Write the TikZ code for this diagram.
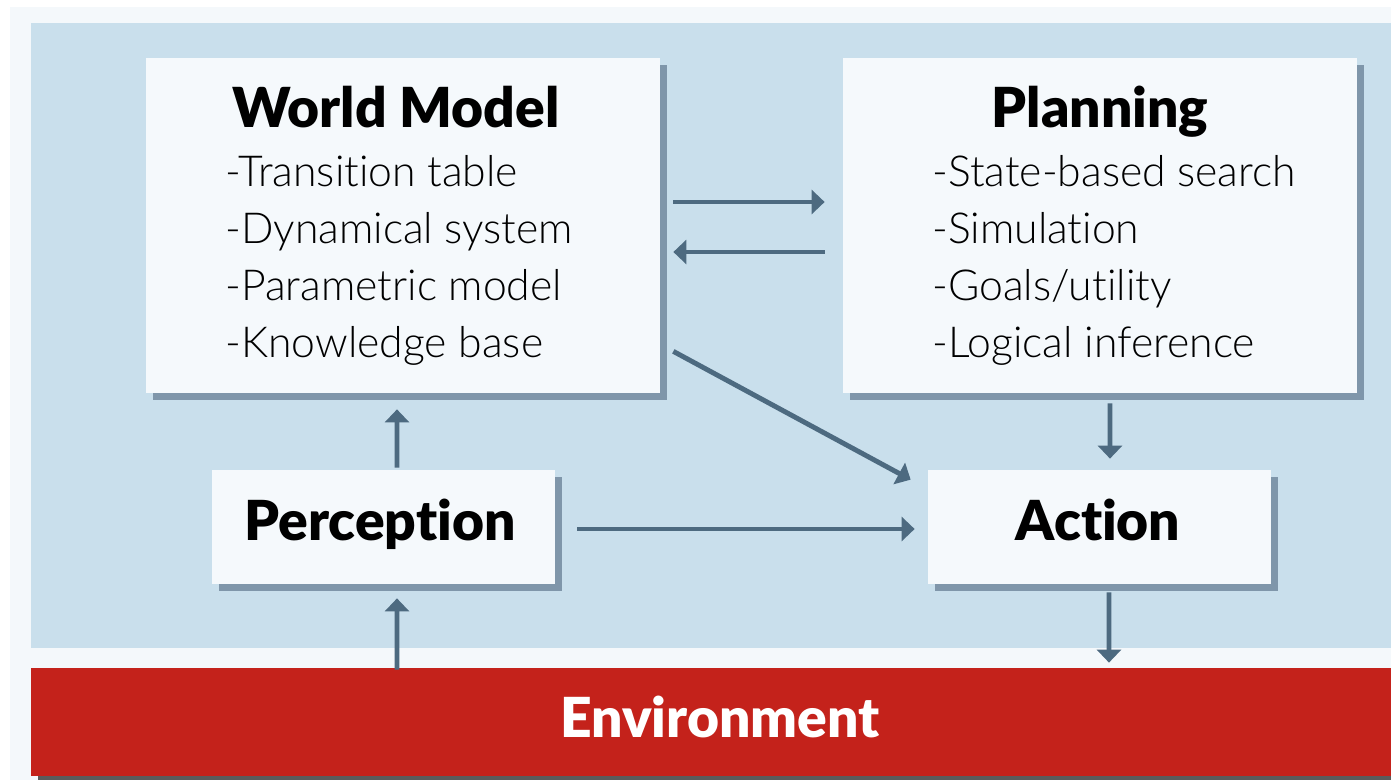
\documentclass[tikz,border=0pt]{standalone}
\usepackage{fontspec}
\setmainfont{Lato}[UprightFont=* Light, BoldFont=* Black, RawFeature={-liga}]
\usetikzlibrary{arrows.meta,positioning,calc,shadows}

\definecolor{paper}{HTML}{F4F8FB}
\definecolor{panel}{HTML}{C9DFEC}
\definecolor{boxfill}{HTML}{F5F9FC}
\definecolor{shade}{HTML}{7F96AA}
\definecolor{arrowc}{HTML}{4D6A80}
\definecolor{envred}{HTML}{C4221B}
\definecolor{envshade}{HTML}{5B5B5B}

\tikzset{
  box/.style={fill=boxfill, inner sep=0pt,
    drop shadow={shadow xshift=1.4mm, shadow yshift=-1.4mm, fill=shade, opacity=1}},
  bigbox/.style={box, minimum width=102.8mm, minimum height=67mm},
  smallbox/.style={box, minimum width=68.6mm, minimum height=22.8mm},
  title/.style={anchor=base, inner sep=0pt, font=\bfseries\fontsize{31.4}{38}\selectfont},
  item/.style={anchor=base west, inner sep=0pt, font=\fontsize{24.3}{32}\selectfont},
  arr/.style={draw=arrowc, line width=2.8pt,
    -{Triangle[length=7.4pt,width=13.6pt]}, arrowc},
}

\begin{document}
\begin{tikzpicture}[x=0.2mm, y=-0.2mm]
  \useasboundingbox (0,0) rectangle (1391,780);
  % background
  \fill[white] (0,0) rectangle (1391,780);
  \fill[paper] (10,7) rectangle (1391,780);
  \fill[panel] (31,23) rectangle (1391,648);

  % boxes
  \node[bigbox] (wm) at (403,225.5) {};
  \node[bigbox] (plan) at (1100,225.5) {};
  \node[smallbox] (perc) at (383.5,527) {};
  \node[smallbox] (act) at (1099.5,527) {};
  \node[fill=envred, inner sep=0pt, minimum width=272mm, minimum height=21.6mm,
    drop shadow={shadow xshift=1.4mm, shadow yshift=-0.8mm, fill=envshade, opacity=1}]
    (env) at (711,722) {};

  % texts
  \node[title] (wmtitle) at (396,127) {World Model};
  \foreach \t [count=\i] in {-Transition table, -Dynamical system,
      -Parametric model, -Knowledge base}
    \node[item] (wm\i) at (225,129+57*\i) {\t};
  \node[title] (plantitle) at (1100,127) {Planning};
  \foreach \t [count=\i] in {-State-based search, -Simulation,
      -Goals/utility, -Logical inference}
    \node[item] (plan\i) at (932,129+57*\i) {\t};
  \node[title] (perctitle) at (380,540) {Perception};
  \node[title] (acttitle) at (1098,540) {Action};
  \node[title, text=white] (envtitle) at (720,737) {Environment};

  % connectors
  \draw[arr] ($(wm.east)+(13,-23.5)$) -- ($(plan.west)+(-18,-23.5)$);
  \draw[arr] ($(plan.west)+(-18,26.5)$) -- ($(wm.east)+(13,26.5)$);
  \draw[arr] ($(wm.south east)+(13,-42)$) -- ($(act.north west)+(-17,10)$);
  \draw[arr] ($(plan.south)+(10,10)$) -- ($(act.north)+(10.5,-11)$);
  \draw[arr] ($(perc.east)+(22,2)$) -- ($(act.west)+(-13,2)$);
  \draw[arr] ($(perc.north)+(13.5,-2)$) -- ($(wm.south)+(-6,16)$);
  \draw[arr] ($(env.north)+(-314,2)$) -- ($(perc.south)+(13.5,14)$);
  \draw[arr] ($(act.south)+(9.5,8)$) -- ($(env.north)+(398,-5)$);
\end{tikzpicture}
\end{document}
